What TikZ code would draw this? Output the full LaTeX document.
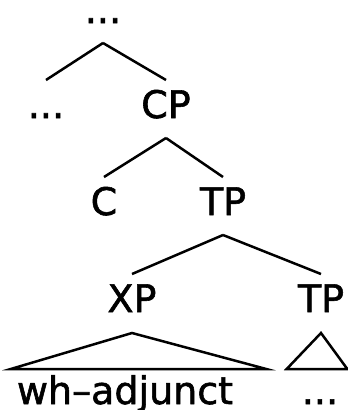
\documentclass[tikz,border=0pt]{standalone}
\usepackage{fontspec}
\newfontfamily\treefont{DejaVu Sans}[FakeBold=1.5, Ligatures=TeX]
\usepackage{tikz}
\usetikzlibrary{positioning}

\tikzset{
  cat/.style={font=\treefont\fontsize{38}{40}\selectfont, inner sep=0pt, anchor=base},
  gap/.style={cat, text height=6pt, text depth=0pt},
  branch/.style={line width=2.5pt},
  roof/.style={line width=2.5pt, line join=miter},
}

\begin{document}
\begin{tikzpicture}[x=1pt,y=-1pt]
\useasboundingbox (0,0) rectangle (348,410);
% Tree nodes (placed at their baselines)
\node[gap] (top)  at (103,23)  {...};
\node[gap] (dots) at (46,118)  {...};
\node[cat] (cp)   at (166,118) {CP};
\node[cat] (c)    at (104,215) {C};
\node[cat] (tp)   at (223,215) {TP};
\node[cat] (xp)   at (132,312) {XP};
\node[cat] (tpb)  at (321,312) {TP};
\node[cat] (wh)   at (125,404) {wh--adjunct};
\node[gap] (rest) at (320,404) {...};
% Branches: from below the mother's baseline to above the daughter's caps
\foreach \p/\c in {top/dots, top/cp, cp/c, cp/tp, tp/xp, tp/tpb} {
  \draw[branch] ([yshift=-20pt]\p.base) -- ([yshift=38pt]\c.base);
}
% Roofs over the unanalysed parts
\draw[roof] ([yshift=-21pt]xp.base) -- ([xshift=-6pt,yshift=35pt]wh.base west)
  -- ([xshift=33pt,yshift=35pt]wh.base east) -- cycle;
\draw[roof] ([yshift=-21pt]tpb.base) -- ([xshift=-15pt,yshift=35pt]rest.base west)
  -- ([xshift=9pt,yshift=35pt]rest.base east) -- cycle;
\end{tikzpicture}
\end{document}
